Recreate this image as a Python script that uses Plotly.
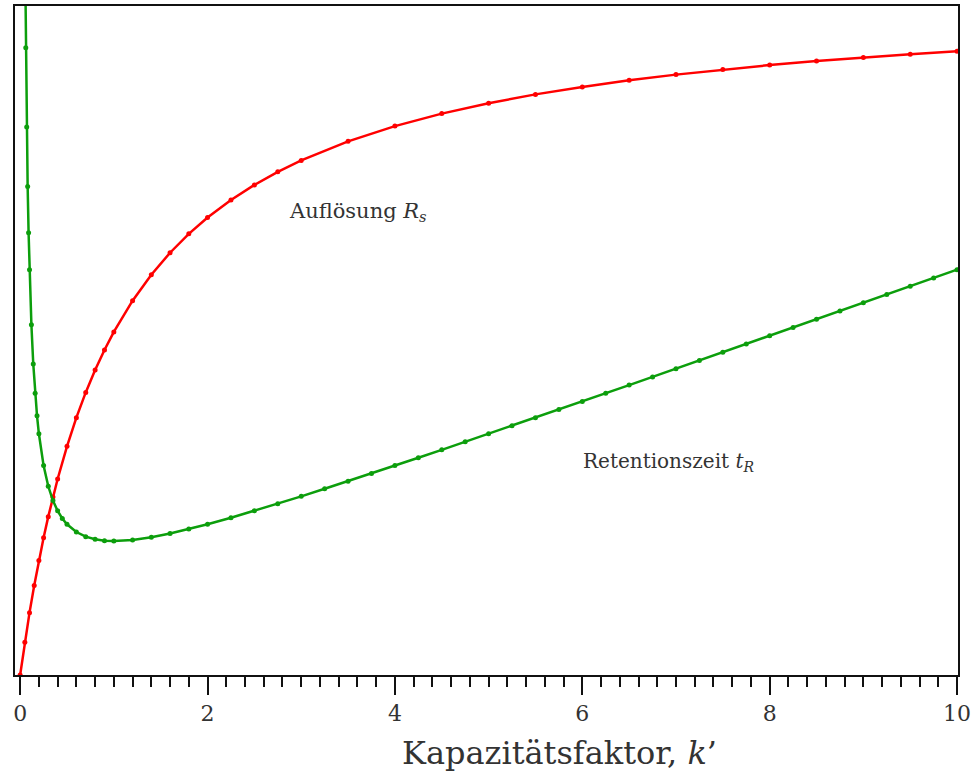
import plotly.graph_objects as go

# Capacity factor k' and resolution R_s (relative units)
k_res = [0, 0.05, 0.1, 0.15, 0.2, 0.25, 0.3, 0.35, 0.4, 0.5, 0.6, 0.7, 0.8, 0.9, 1.0,
         1.2, 1.4, 1.6, 1.8, 2.0, 2.25, 2.5, 2.75, 3.0, 3.5, 4.0, 4.5, 5.0, 5.5, 6.0,
         6.5, 7.0, 7.5, 8.0, 8.5, 9.0, 9.5, 10.0]
resolution = [0, 0.0476, 0.0909, 0.1304, 0.1667, 0.2, 0.2308, 0.2593, 0.2857, 0.3333,
              0.375, 0.4118, 0.4444, 0.4737, 0.5, 0.5455, 0.5833, 0.6154, 0.6429, 0.6667,
              0.6923, 0.7143, 0.7333, 0.75, 0.7778, 0.8, 0.8182, 0.8333, 0.8462, 0.8571,
              0.8667, 0.875, 0.8824, 0.8889, 0.8947, 0.9, 0.9048, 0.9091]

# Capacity factor k' and retention time t_R (relative units)
k_ret = [0.05, 0.06, 0.07, 0.08, 0.09, 0.1, 0.12, 0.14, 0.16, 0.18, 0.2, 0.25, 0.3, 0.35,
         0.4, 0.45, 0.5, 0.6, 0.7, 0.8, 0.9, 1.0, 1.2, 1.4, 1.6, 1.8, 2.0, 2.25, 2.5, 2.75,
         3.0, 3.25, 3.5, 3.75, 4.0, 4.25, 4.5, 4.75, 5.0, 5.25, 5.5, 5.75, 6.0, 6.25, 6.5,
         6.75, 7.0, 7.25, 7.5, 7.75, 8.0, 8.25, 8.5, 8.75, 9.0, 9.25, 9.5, 9.75, 10.0]
retention = [22.05, 18.727, 16.356, 14.58, 13.201, 12.1, 10.453, 9.283, 8.41, 7.736, 7.2,
             6.25, 5.633, 5.207, 4.9, 4.672, 4.5, 4.267, 4.129, 4.05, 4.011, 4.0, 4.033,
             4.114, 4.225, 4.356, 4.5, 4.694, 4.9, 5.114, 5.333, 5.558, 5.786, 6.017, 6.25,
             6.485, 6.722, 6.961, 7.2, 7.44, 7.682, 7.924, 8.167, 8.41, 8.654, 8.898, 9.143,
             9.388, 9.633, 9.879, 10.125, 10.371, 10.618, 10.864, 11.111, 11.358, 11.605,
             11.853, 12.1]

x_tick_vals = [0, 2, 4, 6, 8, 10]
x_tick_text = ["0", "2", "4", "6", "8", "10"]

RED = "#ff0000"
GREEN = "#0c9e0c"
SERIF = "DejaVu Serif"
TEXT = "#333333"

fig = go.Figure()

fig.add_trace(go.Scatter(
    x=k_res, y=resolution, mode="lines+markers", name="Auflösung",
    line=dict(color=RED, width=2.5), marker=dict(color=RED, size=5),
    yaxis="y", showlegend=False,
))
fig.add_trace(go.Scatter(
    x=k_ret, y=retention, mode="lines+markers", name="Retentionszeit",
    line=dict(color=GREEN, width=2.5), marker=dict(color=GREEN, size=5),
    yaxis="y2", showlegend=False,
))

# Curve labels
fig.add_annotation(
    x=2.85, y=0.675, xref="x", yref="y", xanchor="left", yanchor="middle",
    text="Auflösung <i>R</i><sub><i>s</i></sub>", showarrow=False,
    font=dict(family=SERIF, size=21, color=TEXT),
)
fig.add_annotation(
    x=5.99, y=0.31, xref="x", yref="y", xanchor="left", yanchor="middle",
    text="Retentionszeit <i>t</i><sub><i>R</i></sub>", showarrow=False,
    font=dict(family=SERIF, size=20, color=TEXT),
)

# x-axis title, set right of centre below the axis
fig.add_annotation(
    x=0.577, y=-0.117, xref="paper", yref="paper", xanchor="center", yanchor="middle",
    text="Kapazitätsfaktor, <i>k</i>’", showarrow=False,
    font=dict(family=SERIF, size=32, color=TEXT),
)

fig.update_layout(
    width=971, height=771,
    margin=dict(l=15, r=13, t=6, b=96),
    paper_bgcolor="white", plot_bgcolor="white",
    font=dict(family=SERIF, color=TEXT),
    xaxis=dict(
        range=[-0.055, 10.01], showgrid=False, zeroline=False, automargin=False,
        showline=True, linecolor="#111111", linewidth=2, mirror=True,
        ticks="outside", ticklen=18, tickwidth=2, tickcolor="#111111",
        tickvals=x_tick_vals, ticktext=x_tick_text, ticklabeloverflow="allow",
        tickfont=dict(family=SERIF, size=22, color=TEXT),
        minor=dict(dtick=0.2, tick0=0, ticks="outside", ticklen=10,
                   tickwidth=2, tickcolor="#111111", showgrid=False),
    ),
    yaxis=dict(
        range=[0, 0.975], showgrid=False, zeroline=False, showticklabels=False,
        automargin=False, ticks="", showline=True, linecolor="#111111",
        linewidth=2, mirror=True,
    ),
    yaxis2=dict(
        range=[0, 19.97], overlaying="y", showgrid=False, zeroline=False,
        automargin=False, showticklabels=False, ticks="", showline=False,
    ),
)

fig.write_html("out.html")
